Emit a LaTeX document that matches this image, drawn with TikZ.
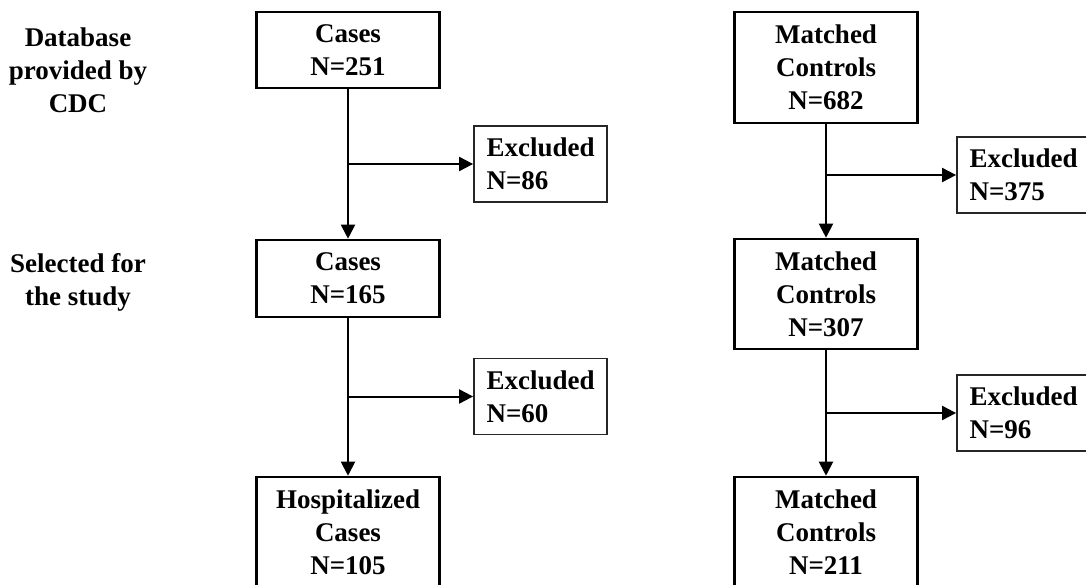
\documentclass[tikz,border=0pt]{standalone}
\usepackage{fontspec}
\setmainfont{Liberation Serif}
\usepackage{tikz}
\usetikzlibrary{calc, arrows.meta}
\tikzstyle{mainbox} = [draw, line width=2.6pt, align=center, minimum width=183pt, inner sep=0pt]
\tikzstyle{exbox} = [draw=black!85, line width=1.8pt, align=left, minimum width=133pt, minimum height=76pt, inner sep=0pt, text width=108pt]
\tikzstyle{sidelabel} = [align=center, inner sep=0pt]
\tikzstyle{arr} = [line width=2pt, -{Triangle[length=14pt, width=14pt]}]

\begin{document}
\begin{tikzpicture}[x=1pt, y=-1pt, font=\bfseries\fontsize{27}{33}\selectfont]
 		\useasboundingbox (0,0) rectangle (1086,585);
 		\node[sidelabel] (dblabel) at (78, 70) {Database\\provided by\\CDC};
 		\node[sidelabel] (sellabel) at (78, 282) {Selected for\\the study};
 		\node[mainbox, minimum height=76pt] (casesA) at (348, 50) {Cases\\N=251};
 		\node[exbox] (exA) at (540.5, 164) {Excluded\\N=86};
 		\node[mainbox, minimum height=77pt] (casesB) at (348, 278.5) {Cases\\N=165};
 		\node[exbox] (exB) at (540.5, 396.5) {Excluded\\N=60};
 		\node[mainbox, minimum height=111pt] (casesC) at (348, 532.5) {Hospitalized\\Cases\\N=105};
 		\node[mainbox, minimum height=111pt] (ctrlA) at (826, 67.5) {Matched\\Controls\\N=682};
 		\node[exbox] (exC) at (1023.5, 175) {Excluded\\N=375};
 		\node[mainbox, minimum height=110pt] (ctrlB) at (826, 294) {Matched\\Controls\\N=307};
 		\node[exbox] (exD) at (1023.5, 413) {Excluded\\N=96};
 		\node[mainbox, minimum height=111pt] (ctrlC) at (826, 532.5) {Matched\\Controls\\N=211};
 		\draw[arr] (casesA) -- (casesB);
 		\draw[arr] (casesB) -- (casesC);
 		\draw[arr] (ctrlA) -- (ctrlB);
 		\draw[arr] (ctrlB) -- (ctrlC);
 		\draw[arr] (casesA.south |- exA.west) -- (exA.west);
 		\draw[arr] (casesB.south |- exB.west) -- (exB.west);
 		\draw[arr] (ctrlA.south |- exC.west) -- (exC.west);
 		\draw[arr] (ctrlB.south |- exD.west) -- (exD.west);
 	\end{tikzpicture}
\end{document}
